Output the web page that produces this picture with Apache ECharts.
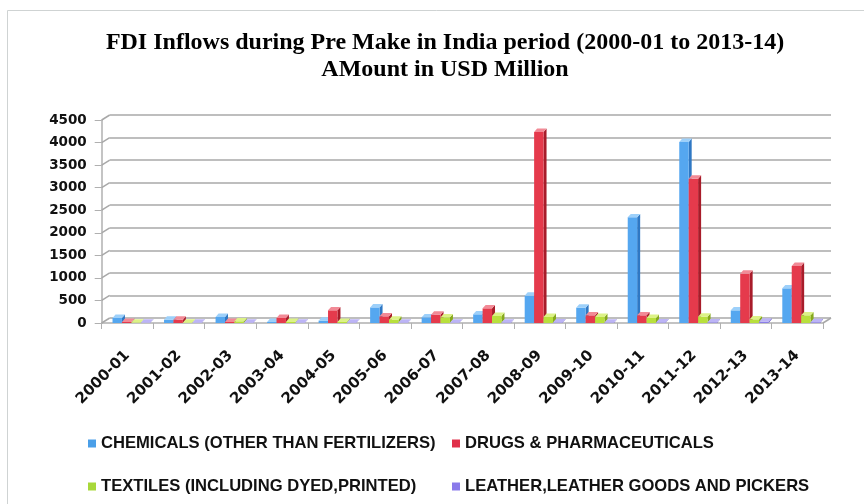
<!DOCTYPE html>
<html>
<head>
<meta charset="utf-8">
<script src="https://cdn.jsdelivr.net/npm/echarts@6/dist/echarts.min.js"></script>
<style>html,body{margin:0;padding:0;background:#fff}#c{width:864px;height:504px}</style>
</head>
<body>
<div id="c"></div>
<script>
const categories = ['2000-01','2001-02','2002-03','2003-04','2004-05','2005-06','2006-07','2007-08','2008-09','2009-10','2010-11','2011-12','2012-13','2013-14'];
const chemicals = [111, 74, 133, 22, 52, 346, 126, 192, 605, 339, 2342, 4013, 280, 768];
const drugs     = [22, 74, 22, 111, 281, 148, 185, 325, 4234, 170, 170, 3199, 1093, 1263];
const textiles  = [10, 8, 37, 22, 22, 74, 126, 155, 133, 133, 111, 140, 81, 170];
const leather   = [5, 5, 5, 5, 8, 8, 8, 10, 12, 10, 12, 15, 30, 18];
const yTicks = [0, 500, 1000, 1500, 2000, 2500, 3000, 3500, 4000, 4500];
const seriesNames = ['CHEMICALS (OTHER THAN FERTILIZERS)', 'DRUGS & PHARMACEUTICALS', 'TEXTILES (INCLUDING DYED,PRINTED)', 'LEATHER,LEATHER GOODS AND PICKERS'];

const palette = [
  {front:'#55a7f0', top:'#9dd0fa', side:'#2f78c4', legend:'#4a9fe8'},
  {front:'#e53a4c', top:'#f28a96', side:'#a81c2a', legend:'#e0304a'},
  {front:'#b8e03c', top:'#dcf286', side:'#86a91c', legend:'#a8d83a'},
  {front:'#8a7ee8', top:'#bcb4f6', side:'#5e50c0', legend:'#8a7aea'}
];

function barRender(si) {
  return function (params, api) {
    const cat = api.value(0), v = api.value(1);
    const base = api.coord([cat, 0]);
    const top = api.coord([cat, v]);
    const catW = api.size([1, 0])[0];
    const w = catW * 0.183;
    const x = base[0] - catW * 0.29 + si * w;
    const dx = 3, dy = 3.4;
    const yt = top[1], yb = base[1];
    const c = palette[si];
    return {
      type: 'group', silent: true,
      children: [
        {type:'polygon', shape:{points:[[x+w,yt],[x+w+dx,yt-dy],[x+w+dx,yb-dy],[x+w,yb]]}, style:{fill:c.side}},
        {type:'rect', shape:{x:x, y:yt, width:w, height:Math.max(yb-yt,0)}, style:{fill:c.front}},
        {type:'polygon', shape:{points:[[x,yt],[x+w,yt],[x+w+dx,yt-dy],[x+dx,yt-dy]]}, style:{fill:c.top}}
      ]
    };
  };
}

function wallRender(params, api) {
  const v = api.value(0);
  const p = api.coord([0, v]);
  const cs = params.coordSys;
  const children = [
    {type:'line', shape:{x1:cs.x, y1:p[1], x2:cs.x+8, y2:p[1]-5}, style:{stroke:'#a8a8a8', lineWidth:1.5}}
  ];
  if (v === 0) {
    children.push({type:'line', shape:{x1:cs.x+cs.width, y1:p[1], x2:cs.x+cs.width+8, y2:p[1]-5}, style:{stroke:'#a8a8a8', lineWidth:1.5}});
  }
  return {type:'group', silent:true, children};
}

const barSeries = [chemicals, drugs, textiles, leather].map((arr, si) => ({
  name: seriesNames[si],
  type: 'custom',
  xAxisIndex: 1, yAxisIndex: 1,
  renderItem: barRender(si),
  itemStyle: {color: palette[si].legend},
  data: arr.map((v, i) => [i, v]),
  z: 5
}));

const legendText = {fontFamily:'Liberation Sans', fontWeight:'bold', fontSize:16.6, color:'#111'};
function leg(name, left, top) {
  return {data:[name], left:left, top:top, itemWidth:8, itemHeight:8, icon:'rect', padding:0, textStyle:legendText, selectedMode:false};
}

const chart = echarts.init(document.getElementById('c'), null, {renderer:'canvas'});
chart.setOption({
  animation: false,
  backgroundColor: '#fff',
  graphic: [
    {type:'rect', shape:{x:7.5, y:10.5, width:900, height:600}, style:{fill:null, stroke:'#cfd3d3', lineWidth:1}, silent:true, z:-10}
  ],
  title: {
    text: 'FDI Inflows during Pre Make in India period (2000-01 to 2013-14)\nAMount in USD Million',
    left: 440, top: 24, textAlign: 'center',
    textStyle: {fontFamily:'Liberation Serif', fontWeight:'bold', fontSize:24, lineHeight:27, color:'#000'}
  },
  legend: [
    leg(seriesNames[0], 88, 435),
    leg(seriesNames[1], 452, 435),
    leg(seriesNames[2], 88, 478),
    leg(seriesNames[3], 452, 478)
  ],
  grid: [
    {left: 109.7, right: 33, top: 115, bottom: 186},
    {left: 101.7, right: 41, top: 120, bottom: 181}
  ],
  xAxis: [
    {gridIndex:0, type:'category', data:categories, show:false},
    {gridIndex:1, type:'category', data:categories,
     axisLine:{show:true, lineStyle:{color:'#b0b0b0', width:1.5}},
     axisTick:{show:true, length:6, lineStyle:{color:'#b0b0b0'}},
     axisLabel:{rotate:45, margin:30, interval:0, fontFamily:'DejaVu Sans', fontWeight:'bold', fontSize:15, color:'#111'}}
  ],
  yAxis: [
    {gridIndex:0, type:'value', min:0, max:4500, interval:500,
     axisLine:{show:false}, axisTick:{show:false}, axisLabel:{show:false},
     splitLine:{show:true, lineStyle:{color:'#a8a8a8', width:1.5}}},
    {gridIndex:1, type:'value', min:0, max:4500, interval:500,
     axisLine:{show:true, lineStyle:{color:'#b0b0b0', width:1.5}},
     axisTick:{show:true, length:7, lineStyle:{color:'#b0b0b0'}},
     axisLabel:{margin:15, fontFamily:'DejaVu Sans', fontWeight:'bold', fontSize:13.5, color:'#111', formatter: v => String(v)},
     splitLine:{show:false}}
  ],
  series: [
    {type:'custom', xAxisIndex:1, yAxisIndex:1, renderItem: wallRender, data: yTicks.map(v => [v]), silent:true, z:1, tooltip:{show:false}}
  ].concat(barSeries)
});
</script>
</body>
</html>
